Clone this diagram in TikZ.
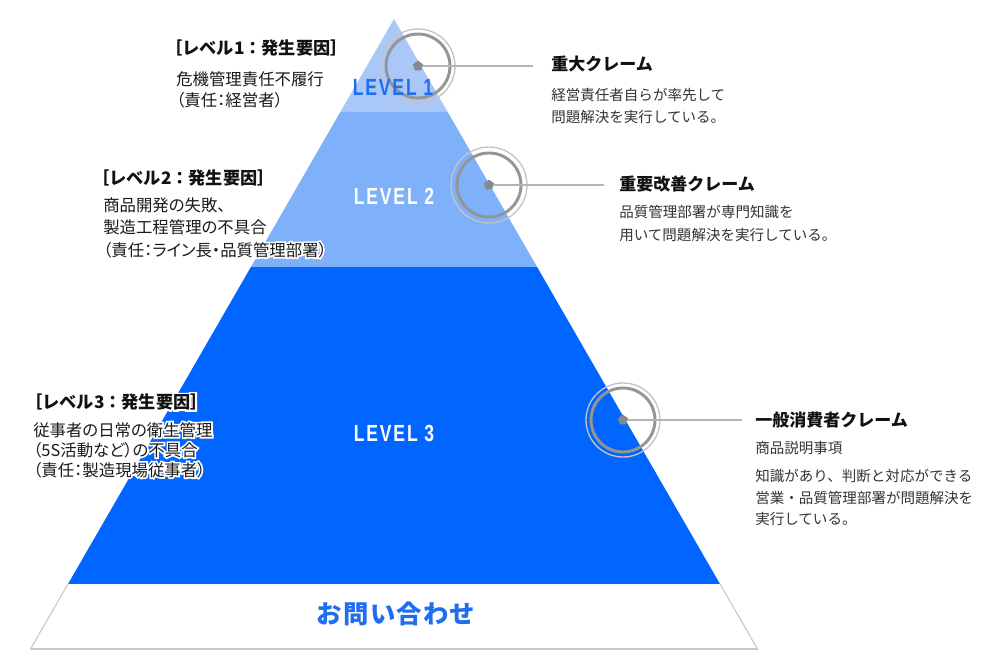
\documentclass[tikz,border=0pt]{standalone}
\usepackage{fontspec}
\setmainfont{Noto Sans CJK JP}
\newfontfamily\jp{Noto Sans CJK JP}
\newfontfamily\jpp[RawFeature=+palt]{Noto Sans CJK JP}
\newfontfamily\jphalo[FakeBold=20]{Noto Sans CJK JP}
\newfontfamily\jpphalo[RawFeature=+palt,FakeBold=20]{Noto Sans CJK JP}
\newfontfamily\lvfont[FakeStretch=0.75,LetterSpace=8]{Liberation Sans}
\newfontfamily\jpls[LetterSpace=5]{Noto Sans CJK JP}
\usetikzlibrary{shapes.geometric}
\definecolor{lvA}{HTML}{A9C8F8}
\definecolor{lvB}{HTML}{7EB1F9}
\definecolor{lvC}{HTML}{0066FF}
\definecolor{lvtext}{HTML}{1F6EF0}
\definecolor{ringlight}{HTML}{C4C4C4}
\definecolor{ringdark}{HTML}{959595}
\definecolor{dotgray}{HTML}{84898F}
\definecolor{connc}{HTML}{B4B4B4}
\definecolor{edgec}{HTML}{C8C8C8}
\definecolor{titleblack}{HTML}{111111}
\definecolor{bodygray}{HTML}{333333}
\definecolor{leftbody}{HTML}{1A1A1A}
\tikzset{
  ringout/.style={draw=ringlight, line width=1pt},
  ringin/.style={draw=ringdark, line width=2.2pt},
  dotmark/.style={regular polygon, regular polygon sides=5, fill=dotgray, minimum size=8pt, inner sep=0pt},
  conn/.style={draw=connc, line width=0.8pt},
  rtitle/.style={anchor=west, inner sep=0pt, text=titleblack, font=\jp\bfseries\fontsize{12.75}{15}\selectfont},
  rbody/.style={anchor=west, inner sep=0pt, align=left, text=bodygray, font=\jp\fontsize{10.9}{16.5}\selectfont},
  ltitle/.style={anchor=west, inner sep=0pt, text=titleblack, font=\jp\bfseries\fontsize{12.9}{15}\selectfont},
  ltitlehalo/.style={anchor=west, inner sep=0pt, text=white, font=\jphalo\bfseries\fontsize{12.9}{15}\selectfont},
  lbody/.style={anchor=west, inner sep=0pt, align=left, text=leftbody, font=\jpp\fontsize{12.3}{#1}\selectfont},
  lbodyhalo/.style={anchor=west, inner sep=0pt, align=left, text=white, font=\jpphalo\fontsize{12.3}{#1}\selectfont},
  lvlabel/.style={inner sep=0pt, font=\lvfont\bfseries\fontsize{17.5}{20}\selectfont},
}
\begin{document}
\begin{tikzpicture}[x=0.75pt,y=-0.75pt]
\useasboundingbox (0,0) rectangle (1000,667);
\fill[white] (0,0) rectangle (1000,667);
% pyramid
\fill[lvA] (394,19) -- (447.7,112) -- (340.3,112) -- cycle;
\fill[lvB] (340.3,112) -- (447.7,112) -- (537.1,267) -- (250.9,267) -- cycle;
\fill[lvC] (250.9,267) -- (537.1,267) -- (720,584) -- (68,584) -- cycle;
\fill[white] (68,584) -- (720,584) -- (757.5,649) -- (30.5,649) -- cycle;
\draw[draw=edgec, line width=0.8pt] (68,584) -- (30.5,649);
\draw[draw=edgec, line width=0.8pt] (720,584) -- (757.5,649);
\draw[draw=edgec, line width=1.6pt] (30.5,649) -- (757.5,649);
% rings and connectors
\draw[ringout] (418,66) circle[radius=27.75pt];
\draw[ringin] (418,66) circle[radius=24pt];
\draw[ringout] (489,185) circle[radius=28.5pt];
\draw[ringin] (489,185) circle[radius=24pt];
\draw[ringout] (623,420) circle[radius=27.75pt];
\draw[ringin] (623,420) circle[radius=24pt];
\node[dotmark] (d1) at (418,66) {};
\node[dotmark] (d2) at (489,185) {};
\node[dotmark] (d3) at (623,420) {};
\coordinate (e1) at (533,66);
\coordinate (e2) at (604,185);
\coordinate (e3) at (742,420);
\draw[conn] (d1) -- (e1);
\draw[conn] (d2) -- (e2);
\draw[conn] (d3) -- (e3);
% level labels
\node[lvlabel, text=lvtext] (L1) at (393,87) {LEVEL 1};
\node[lvlabel, text=white] (L2) at (394,196) {LEVEL 2};
\node[lvlabel, text=white] (L3) at (394,433) {LEVEL 3};
\node[inner sep=0pt, text=lvtext, font=\jpls\bfseries\fontsize{19}{22}\selectfont] (contact) at (396,614) {お問い合わせ};
% right texts
\node[rtitle] (t1) at (551,64) {重大クレーム};
\node[rbody] (b1) at (551,106) {経営責任者自らが率先して\\問題解決を実行している。};
\node[rtitle] (t2) at (619,184) {重要改善クレーム};
\node[rbody, font=\jp\fontsize{10.9}{17.25}\selectfont] (b2) at (619,223.5) {品質管理部署が専門知識を\\用いて問題解決を実行している。};
\node[rtitle] (t3) at (755,420) {一般消費者クレーム};
\node[rbody] (s3) at (755,448) {商品説明事項};
\node[rbody, font=\jp\fontsize{10.9}{16.1}\selectfont] (b3) at (755,497.5) {知識があり、判断と対応ができる\\営業・品質管理部署が問題解決を\\実行している。};
% left texts (halo then text)
\node[ltitlehalo] (h1) at (165,48) {［レベル1：発生要因］};
\node[ltitle] (l1) at (165,48) {［レベル1：発生要因］};
\node[lbodyhalo=15.75] (hb1) at (176,89.5) {危機管理責任不履行\\（責任：経営者）};
\node[lbody=15.75] (lb1) at (176,89.5) {危機管理責任不履行\\（責任：経営者）};
\node[ltitlehalo] (h2) at (92,178) {［レベル2：発生要因］};
\node[ltitle] (l2) at (92,178) {［レベル2：発生要因］};
\node[lbodyhalo=16.9] (hb2) at (103,227.5) {商品開発の失敗、\\製造工程管理の不具合\\（責任：ライン長・品質管理部署）};
\node[lbody=16.9] (lb2) at (103,227.5) {商品開発の失敗、\\製造工程管理の不具合\\（責任：ライン長・品質管理部署）};
\node[ltitlehalo] (h3) at (25,402) {［レベル3：発生要因］};
\node[ltitle] (l3) at (25,402) {［レベル3：発生要因］};
\node[lbodyhalo=15] (hb3) at (33,450) {従事者の日常の衛生管理\\（5S活動など）の不具合\\（責任：製造現場従事者）};
\node[lbody=15] (lb3) at (33,450) {従事者の日常の衛生管理\\（5S活動など）の不具合\\（責任：製造現場従事者）};
\end{tikzpicture}
\end{document}
